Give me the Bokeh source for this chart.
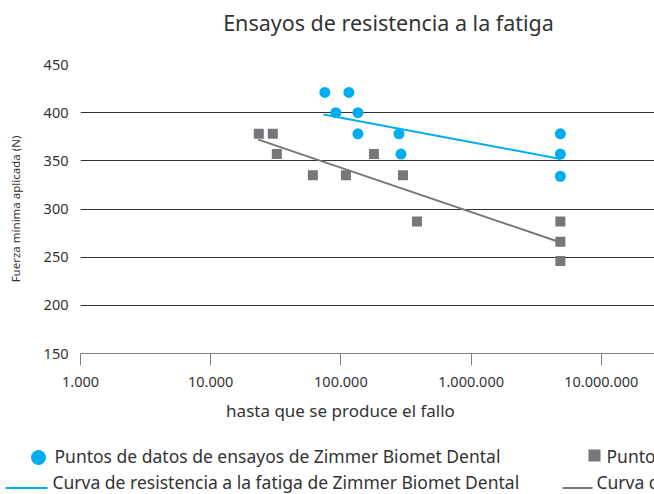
from bokeh.plotting import figure
from bokeh.models import Range1d, FixedTicker
from bokeh.embed import file_html
from bokeh.resources import INLINE
from bokeh.core.properties import value

# ---------------- data ----------------
TITLE = "Ensayos de resistencia a la fatiga"
Y_LABEL = "Fuerza mínima aplicada (N)"
X_LABEL = "hasta que se produce el fallo"

x_ticks = [1000, 10000, 100000, 1000000, 10000000]
x_tick_labels = ["1.000", "10.000", "100.000", "1.000.000", "10.000.000"]
y_ticks = [150, 200, 250, 300, 350, 400, 450]

zb_cycles = [75300, 115200, 91500, 135200, 135200, 279500, 289300, 4850000, 4850000, 4850000]
zb_force = [421, 421, 400, 400, 378, 378, 357, 378, 357, 334]

comp_cycles = [23400, 30000, 32200, 60900, 109300, 179400, 299800, 384000, 4850000, 4850000, 4850000]
comp_force = [378, 378, 357, 335, 335, 357, 335, 287, 287, 266, 246]

zb_curve_cycles = [73500, 4860000]
zb_curve_force = [398, 352]
comp_curve_cycles = [23200, 4700000]
comp_curve_force = [372, 266]

legend_labels = [
    "Puntos de datos de ensayos de Zimmer Biomet Dental",
    "Curva de resistencia a la fatiga de Zimmer Biomet Dental",
    "Puntos de datos de ensayos de la competencia",
    "Curva de resistencia a la fatiga de la competencia",
]

# ---------------- style ----------------
FONT = "Noto Sans"
BLUE = "#00aeef"
GREY = "#77777b"
TEXT = "#333333"
W = 654


def blank(height, yr):
    f = figure(width=W, height=height, x_range=Range1d(0, W), y_range=Range1d(*yr),
               output_backend="svg", toolbar_location=None, min_border=0)
    f.axis.visible = False
    f.grid.visible = False
    f.outline_line_color = None
    return f


# ---------------- title ----------------
top = blank(50, (50, 0))
top.text([388], [22], text=[TITLE], text_align="center", text_baseline="middle",
         text_font=value(FONT), text_font_size="21.5px", text_color=TEXT)

# ---------------- main plot ----------------
p = figure(width=W, height=350, x_axis_type="log",
           x_range=Range1d(1000, 2.563e7), y_range=Range1d(150, 450),
           output_backend="svg", toolbar_location=None,
           min_border_left=80, min_border_right=0,
           min_border_top=14, min_border_bottom=47)
p.outline_line_color = None
p.xgrid.visible = False
p.ygrid.ticker = FixedTicker(ticks=y_ticks)
p.ygrid.grid_line_color = "#333333"
p.ygrid.grid_line_width = 1

xa = p.xaxis[0]
xa.ticker = FixedTicker(ticks=x_ticks, minor_ticks=[])
xa.major_label_overrides = {t: l for t, l in zip(x_ticks, x_tick_labels)}
xa.axis_line_color = "#808080"
xa.major_tick_line_color = "#808080"
xa.major_tick_out = 12
xa.major_tick_in = 0
xa.minor_tick_line_color = None
xa.major_label_text_font = FONT
xa.major_label_text_font_size = "14.5px"
xa.major_label_text_color = TEXT
xa.major_label_standoff = 11

ya = p.yaxis[0]
ya.ticker = FixedTicker(ticks=y_ticks, minor_ticks=[])
ya.axis_line_color = None
ya.major_tick_line_color = None
ya.minor_tick_line_color = None
ya.major_label_standoff = 6
ya.major_label_text_font = FONT
ya.major_label_text_font_size = "14.5px"
ya.major_label_text_color = TEXT
ya.axis_label = Y_LABEL
ya.axis_label_text_font = FONT
ya.axis_label_text_font_size = "11.5px"
ya.axis_label_text_font_style = "normal"
ya.axis_label_text_color = TEXT
ya.axis_label_standoff = 18

p.line(zb_curve_cycles, zb_curve_force, line_color=BLUE, line_width=2)
p.line(comp_curve_cycles, comp_curve_force, line_color=GREY, line_width=2)
p.scatter(zb_cycles, zb_force, marker="circle", size=11, fill_color=BLUE, line_color=None)
p.scatter(comp_cycles, comp_force, marker="square", size=10, fill_color=GREY, line_color=None)

# ---------------- x label + legend ----------------
bot = blank(94, (94, 0))
bot.text([340], [10], text=[X_LABEL], text_align="center", text_baseline="middle",
         text_font=value(FONT), text_font_size="17px", text_color=TEXT)
bot.scatter([38], [57], marker="circle", size=15, fill_color=BLUE, line_color=None)
bot.scatter([594], [55], marker="square", size=12, fill_color=GREY, line_color=None)
bot.line([5, 47], [87.5, 87.5], line_color=BLUE, line_width=2)
bot.line([562, 592], [87.5, 87.5], line_color=GREY, line_width=2)
bot.text([54, 52, 606, 596], [55.8, 81.8, 55.8, 81.8], text=legend_labels,
         text_baseline="middle", text_align="left",
         text_font=value(FONT), text_font_size="17.5px", text_color=TEXT)

open("out.html", "w").write(file_html([top, p, bot], INLINE))
